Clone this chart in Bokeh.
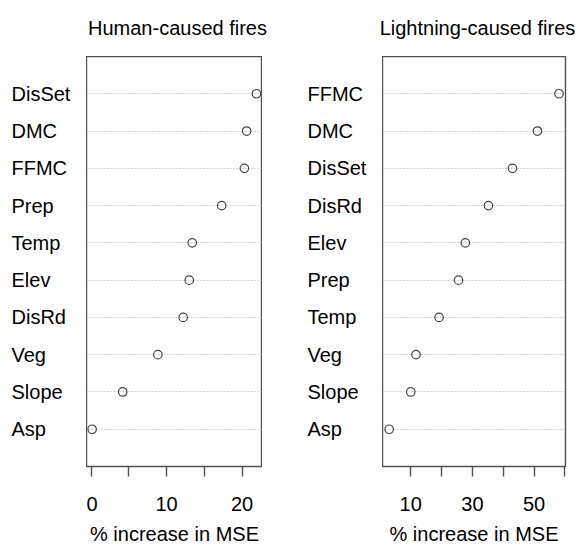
from bokeh.plotting import figure
from bokeh.layouts import row, column
from bokeh.models import Range1d, FactorRange, FixedTicker, Grid, CategoricalTicker, ColumnDataSource
from bokeh.embed import file_html
from bokeh.resources import INLINE
from bokeh.core.properties import value

# ---- data ----
human_vars = ["DisSet", "DMC", "FFMC", "Prep", "Temp", "Elev", "DisRd", "Veg", "Slope", "Asp"]
human_mse = [21.9, 20.6, 20.3, 17.3, 13.4, 13.0, 12.2, 8.85, 4.2, 0.15]
light_vars = ["FFMC", "DMC", "DisSet", "DisRd", "Elev", "Prep", "Temp", "Veg", "Slope", "Asp"]
light_mse = [58.1, 51.1, 43.0, 35.2, 27.7, 25.5, 19.2, 11.7, 10.0, 3.0]
human_ticks = [0, 5, 10, 15, 20]
human_tick_labels = ["0", "", "10", "", "20"]
light_ticks = [10, 20, 30, 40, 50, 60]
light_tick_labels = ["10", "", "30", "", "50", ""]
titles = ["Human-caused fires", "Lightning-caused fires"]

FONT = "Liberation Sans"
TXT = "#000000"
FRAME_H = 410
TOP = 56
BOTTOM = 79
W = 579


def factor_range(vars_):
    return FactorRange(factors=list(reversed(vars_)), range_padding=0.5,
                       range_padding_units="absolute")


def hide_grids(f):
    for g in f.grid:
        g.visible = False


def label_fig(vars_, w, xpos):
    f = figure(frame_width=w, frame_height=FRAME_H, x_range=Range1d(0, w),
               y_range=factor_range(vars_), x_axis_location=None, y_axis_location=None,
               toolbar_location=None, output_backend="svg",
               min_border_left=0, min_border_right=0, min_border_top=0,
               min_border_bottom=BOTTOM, outline_line_color=None)
    hide_grids(f)
    f.text(x=xpos, y=vars_, text=vars_, text_align="left", text_baseline="middle",
           text_font=value(FONT), text_font_size="20px", text_color=TXT)
    return f


def panel(vars_, vals, xr, ticks, tlabels, fw, right_border):
    p = figure(frame_width=fw, frame_height=FRAME_H, x_range=Range1d(*xr),
               y_range=factor_range(vars_), y_axis_location=None,
               toolbar_location=None, output_backend="svg",
               min_border_left=0, min_border_right=right_border, min_border_top=0,
               min_border_bottom=BOTTOM)
    p.outline_line_color = "#505050"
    p.outline_line_width = 1.4
    p.outline_line_alpha = 1
    hide_grids(p)
    p.add_layout(Grid(dimension=1, ticker=CategoricalTicker(), grid_line_color="#b0b0b0",
                      grid_line_dash="1 2", grid_line_width=1))
    ax = p.xaxis[0]
    ax.ticker = FixedTicker(ticks=ticks)
    ax.major_label_overrides = {t: l for t, l in zip(ticks, tlabels)}
    ax.minor_tick_line_color = None
    ax.axis_line_color = None
    ax.major_tick_out = 10
    ax.major_tick_in = 0
    ax.major_tick_line_color = "#505050"
    ax.major_tick_line_width = 1.4
    ax.major_label_text_font = FONT
    ax.major_label_text_font_size = "20px"
    ax.major_label_text_color = TXT
    ax.major_label_standoff = 20
    ax.axis_label = "% increase in MSE"
    ax.axis_label_text_font = FONT
    ax.axis_label_text_font_size = "20px"
    ax.axis_label_text_font_style = "normal"
    ax.axis_label_text_color = TXT
    ax.axis_label_standoff = 9
    src = ColumnDataSource(dict(x=vals, y=vars_))
    p.scatter(x="x", y="y", source=src, size=8.5, fill_color=None,
              line_color="#444444", line_width=1.2)
    return p


# title strip spanning the page (pixel data units)
tf = figure(width=W, height=TOP, x_range=Range1d(0, W), y_range=Range1d(0, TOP),
            x_axis_location=None, y_axis_location=None, toolbar_location=None,
            output_backend="svg", min_border=0, outline_line_color=None)
hide_grids(tf)
tf.text(x=[177, 477], y=[TOP - 27, TOP - 27], text=titles, text_align="center",
        text_baseline="middle", text_font=value(FONT), text_font_size="20px",
        text_color=TXT)

lab1 = label_fig(human_vars, 86, 11)
p1 = panel(human_vars, human_mse, (-0.6, 22.7), human_ticks, human_tick_labels, 176, 0)
lab2 = label_fig(light_vars, 120, 45)
p2 = panel(light_vars, light_mse, (0.84, 60.2), light_ticks, light_tick_labels, 183, 14)

layout = column(tf, row(lab1, p1, lab2, p2))
open("out.html", "w").write(file_html(layout, INLINE))
